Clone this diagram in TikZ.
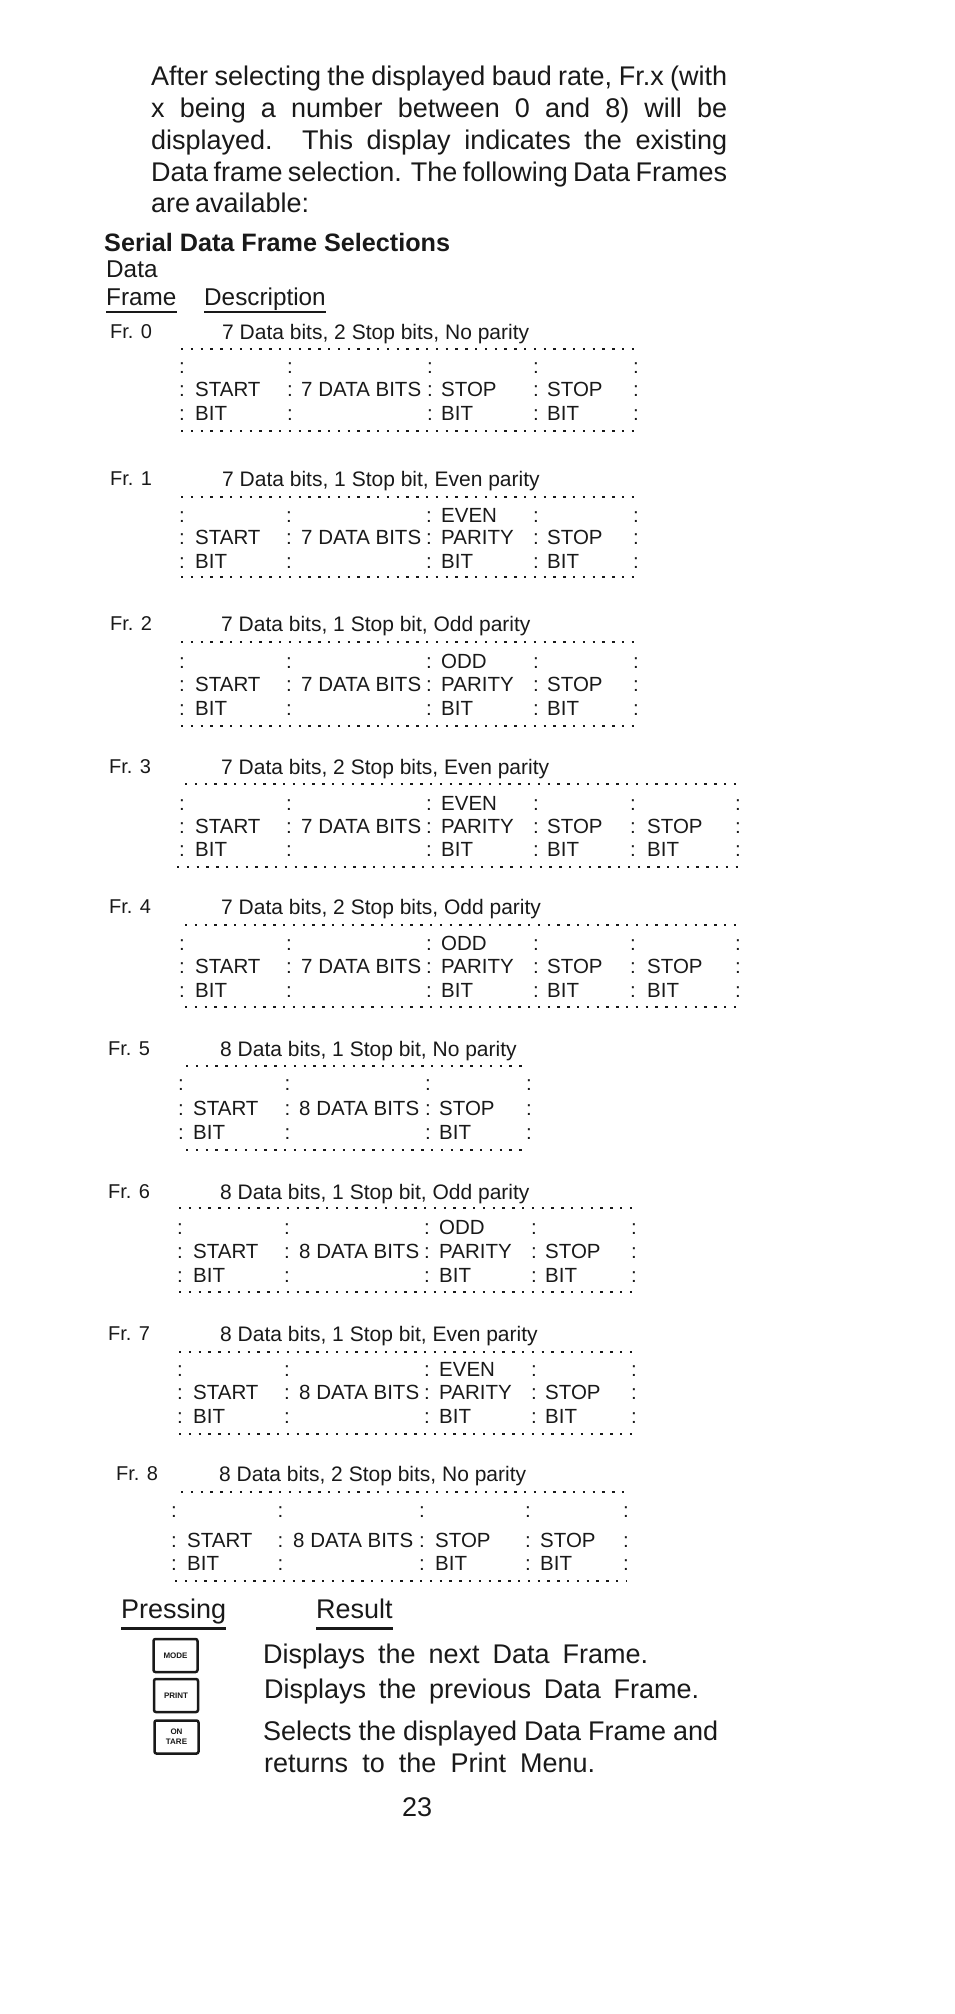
\documentclass[tikz,border=0pt]{standalone}
\usepackage{fontspec}
\setmainfont{Liberation Sans}
\usetikzlibrary{
    positioning,  % For placing nodes relative to each other
    calc          % For calculating coordinates
}
\definecolor{ink}{gray}{0.1}

% One justified line of printed text, spaces stretched to the given width
\newcommand{\fitline}[2]{\hbox to #1pt{\spaceskip=.26em plus 1fil minus .2em\relax #2}}

% Label and description above a frame (id, label, description, label x, description x, baseline)
\newcommand{\framehead}[6]{
    \node[frame_label] (#1_label) at (#4,#6) {#2};
    \node[frame_desc] (#1_desc) at (#5,#6+1) {#3};
}
% One dotted edge of a frame (name, left x, right x, y)
\newcommand{\frameline}[4]{
    \coordinate (#1_l) at (#2,#4);
    \coordinate (#1_r) at (#3,#4);
    \draw[dots_line] (#1_l) -- (#1_r);
}
% Colon columns (id, x shift, row 1, row 2, row 3, columns)
\newcommand{\framebody}[6]{
    \def\frameid{#1}\def\framedx{#2}\def\rowa{#3}\def\rowb{#4}\def\rowc{#5}
    \foreach \colx [count=\coli] in {#6} {
        \node[frame_text] (#1_cola\coli) at (\colx+#2-3,#3) {:};
        \node[frame_text] (#1_colb\coli) at (\colx+#2-3,#4) {:};
        \node[frame_text] (#1_colc\coli) at (\colx+#2-3,#5) {:};
    }
}
% START BIT and n DATA BITS fields
\newcommand{\startcells}[1]{
    \node[frame_text] (\frameid_start) at (195+\framedx,\rowb) {START};
    \node[frame_text] (\frameid_startbit) at (195+\framedx,\rowc) {BIT};
    \node[frame_text] (\frameid_data) at (301+\framedx,\rowb) {#1 DATA BITS};
}
% Two-line field (node suffix, x, first line)
\newcommand{\twocell}[3]{
    \node[frame_text] (\frameid_#1a) at (#2+\framedx,\rowb) {#3};
    \node[frame_text] (\frameid_#1b) at (#2+\framedx,\rowc) {BIT};
}
% Parity field (EVEN or ODD)
\newcommand{\paritycell}[1]{
    \node[frame_text] (\frameid_pty) at (441+\framedx,\rowa) {#1};
    \twocell{par}{441}{PARITY}
}

\begin{document}
\begin{tikzpicture}[
    x=1pt, y=-1pt,
    color=ink,
    % Style for the page text
    body_text/.style={
        anchor=base west, inner sep=0pt,
        font=\fontsize{27}{27}\selectfont
    },
    head_text/.style={
        anchor=base west, inner sep=0pt,
        font=\fontsize{24.3}{24}\selectfont
    },
    % Style for the frame texts
    frame_text/.style={
        anchor=base west, inner sep=0pt,
        font=\fontsize{20.5}{20}\selectfont
    },
    frame_label/.style={
        anchor=base west, inner sep=0pt,
        font=\fontsize{20}{20}\selectfont
    },
    frame_desc/.style={
        anchor=base west, inner sep=0pt,
        font=\fontsize{21}{21}\selectfont
    },
    % Style for the dotted frame outline
    dots_line/.style={
        line width=2.4pt,
        dash pattern=on 2.4pt off 7.4pt
    },
    % Style for the rules under the column titles
    head_rule/.style={line width=2.5pt},
    % Style for the keys
    key_box/.style={
        draw, line width=2.5pt, rounded corners=2pt,
        minimum width=44pt, minimum height=33pt,
        inner sep=0pt, align=center,
        font=\fontsize{8}{10}\selectfont\bfseries
    }
]
    \useasboundingbox (0,0) rectangle (954,2014);

    % 1. The paragraph at the top.
    \node[body_text] (para_a) at (151,85) {\fitline{576}{After selecting the displayed baud rate, Fr.x (with}};
    \node[body_text] (para_b) at (151,117) {\fitline{576}{x being a number between 0 and 8) will be}};
    \node[body_text] (para_c) at (151,149) {\fitline{576}{displayed. This display indicates the existing}};
    \node[body_text] (para_d) at (151,181) {\fitline{576}{Data frame selection. The following Data Frames}};
    \node[body_text] (para_e) at (151,212) {\fitline{158}{are available:}};

    % 2. The table titles.
    \node[head_text, font=\fontsize{25.2}{25}\selectfont\bfseries] (title) at (104,251) {Serial Data Frame Selections};
    \node[head_text] (hdr_data) at (106,277) {Data};
    \node[head_text] (hdr_frame) at (106,305) {Frame};
    \node[head_text] (hdr_desc) at (204,305) {Description};
    \draw[head_rule] ([yshift=-7pt]hdr_frame.base west) -- ([yshift=-7pt]hdr_frame.base east);
    \draw[head_rule] ([yshift=-7pt]hdr_desc.base west) -- ([yshift=-7pt]hdr_desc.base east);

    % 3. The data frames.
    \framehead{fr_0}{Fr. 0}{7 Data bits, 2 Stop bits, No parity}{110}{222}{338}
    \frameline{fr_0_top}{181}{636}{349}
    \frameline{fr_0_bot}{181}{636}{431}
    \framebody{fr_0}{0}{373}{396}{420}{182,290,430,536,636}
    \startcells{7}
    \twocell{stopa}{441}{STOP}
    \twocell{stopb}{547}{STOP}

    \framehead{fr_1}{Fr. 1}{7 Data bits, 1 Stop bit, Even parity}{110}{222}{485}
    \frameline{fr_1_top}{181}{635}{497}
    \frameline{fr_1_bot}{181}{635}{577}
    \framebody{fr_1}{0}{522}{544}{568}{182,289,429,536,636}
    \startcells{7}
    \paritycell{EVEN}
    \twocell{stopa}{547}{STOP}

    \framehead{fr_2}{Fr. 2}{7 Data bits, 1 Stop bit, Odd parity}{110}{221}{630}
    \frameline{fr_2_top}{181}{635}{642}
    \frameline{fr_2_bot}{181}{635}{726}
    \framebody{fr_2}{0}{668}{691}{715}{182,289,429,536,636}
    \startcells{7}
    \paritycell{ODD}
    \twocell{stopa}{547}{STOP}

    \framehead{fr_3}{Fr. 3}{7 Data bits, 2 Stop bits, Even parity}{109}{221}{773}
    \frameline{fr_3_top}{185}{740}{784}
    \frameline{fr_3_bot}{177}{740}{867}
    \framebody{fr_3}{0}{810}{833}{856}{182,289,429,536,633,738}
    \startcells{7}
    \paritycell{EVEN}
    \twocell{stopa}{547}{STOP}
    \twocell{stopb}{647}{STOP}

    \framehead{fr_4}{Fr. 4}{7 Data bits, 2 Stop bits, Odd parity}{109}{221}{913}
    \frameline{fr_4_top}{185}{740}{925}
    \frameline{fr_4_bot}{185}{740}{1007}
    \framebody{fr_4}{0}{950}{973}{997}{182,289,429,536,633,738}
    \startcells{7}
    \paritycell{ODD}
    \twocell{stopa}{547}{STOP}
    \twocell{stopb}{647}{STOP}

    \framehead{fr_5}{Fr. 5}{8 Data bits, 1 Stop bit, No parity}{108}{220}{1055}
    \frameline{fr_5_top}{186}{527}{1066}
    \frameline{fr_5_bot}{186}{527}{1150}
    \framebody{fr_5}{-2}{1090}{1115}{1139}{183,289.5,430,531}
    \startcells{8}
    \twocell{stopa}{441}{STOP}

    \framehead{fr_6}{Fr. 6}{8 Data bits, 1 Stop bit, Odd parity}{108}{220}{1198}
    \frameline{fr_6_top}{179}{639}{1208}
    \frameline{fr_6_bot}{179}{633}{1292}
    \framebody{fr_6}{-2}{1234}{1258}{1282}{182,289,429,536,636}
    \startcells{8}
    \paritycell{ODD}
    \twocell{stopa}{547}{STOP}

    \framehead{fr_7}{Fr. 7}{8 Data bits, 1 Stop bit, Even parity}{108}{220}{1340}
    \frameline{fr_7_top}{179}{632}{1352}
    \frameline{fr_7_bot}{179}{632}{1434}
    \framebody{fr_7}{-2}{1376}{1399}{1423}{182,289,429,536,636}
    \startcells{8}
    \paritycell{EVEN}
    \twocell{stopa}{547}{STOP}

    \framehead{fr_8}{Fr. 8}{8 Data bits, 2 Stop bits, No parity}{116}{219}{1480}
    \frameline{fr_8_top}{181}{630}{1492}
    \frameline{fr_8_bot}{175}{626}{1581}
    \framebody{fr_8}{-8}{1517}{1547}{1570}{182,288.5,430,536,634}
    \startcells{8}
    \twocell{stopa}{443}{STOP}
    \twocell{stopb}{548}{STOP}

    % 4. The keys and what they do.
    \node[body_text] (hdr_press) at (121,1618) {Pressing};
    \node[body_text] (hdr_result) at (316,1618) {Result};
    \draw[head_rule, line width=3pt] ([yshift=-10pt]hdr_press.base west) -- ([yshift=-10pt]hdr_press.base east);
    \draw[head_rule, line width=3pt] ([yshift=-10pt]hdr_result.base west) -- ([yshift=-10pt]hdr_result.base east);

    \node[key_box] (key_mode) at (175.5,1655.5) {MODE};
    \node[key_box] (key_print) at (176,1695.5) {PRINT};
    \node[key_box] (key_tare) at (176.5,1737) {ON\\TARE};

    \node[body_text] (res_next) at (263,1663) {\fitline{385}{Displays the next Data Frame.}};
    \node[body_text] (res_prev) at (264,1698) {\fitline{435}{Displays the previous Data Frame.}};
    \node[body_text] (res_sel) at (263,1740) {\fitline{455}{Selects the displayed Data Frame and}};
    \node[body_text] (res_ret) at (264,1772) {\fitline{331}{returns to the Print Menu.}};

    % 5. The page number.
    \node[body_text] (page_num) at (402,1816) {23};
\end{tikzpicture}
\end{document}
